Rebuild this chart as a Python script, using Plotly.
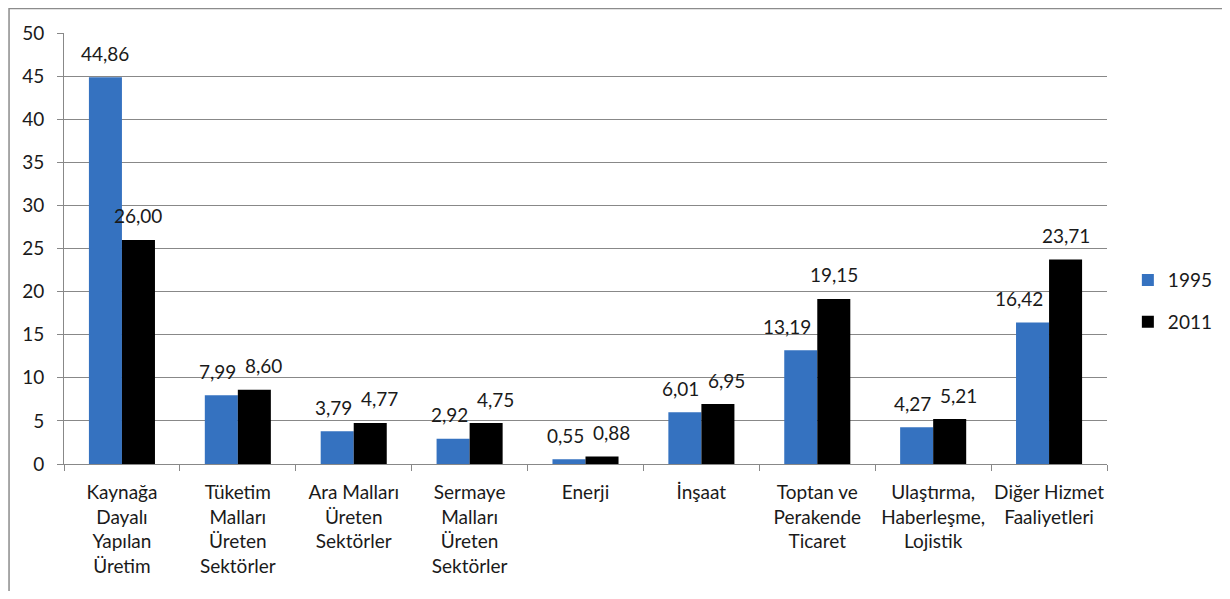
import plotly.graph_objects as go

# ---------------------------------------------------------------------------
# Data
# ---------------------------------------------------------------------------

categories = [
    "Kaynağa<br>Dayalı<br>Yapılan<br>Üretim",
    "Tüketim<br>Malları<br>Üreten<br>Sektörler",
    "Ara Malları<br>Üreten<br>Sektörler",
    "Sermaye<br>Malları<br>Üreten<br>Sektörler",
    "Enerji",
    "İnşaat",
    "Toptan ve<br>Perakende<br>Ticaret",
    "Ulaştırma,<br>Haberleşme,<br>Lojistik",
    "Diğer Hizmet<br>Faaliyetleri",
]
values_1995 = [44.86, 7.99, 3.79, 2.92, 0.55, 6.01, 13.19, 4.27, 16.42]
values_2011 = [26.00, 8.60, 4.77, 4.75, 0.88, 6.95, 19.15, 5.21, 23.71]
y_ticks = [0, 5, 10, 15, 20, 25, 30, 35, 40, 45, 50]

_FONT = "Lato, 'Open Sans', sans-serif"
_FS = 19
_TEXT = "#1a1a1a"
_GRID = "#888888"
_BLUE = "#3572c0"
_BLACK = "#000000"

# page body has an 8px margin, so the figure is a bit smaller than the window
W, H = 1214, 583
PLOT_H = H - 25 - 127          # pixel height of the plot area
PX_PER_UNIT = PLOT_H / 50.0


def tr_fmt(v):
    return f"{v:.2f}".replace(".", ",")


fig = go.Figure()

for name, vals, color in [("1995", values_1995, _BLUE), ("2011", values_2011, _BLACK)]:
    fig.add_trace(go.Bar(
        x=categories, y=vals,
        name=name,
        marker=dict(color=color, line=dict(width=0)),
        legendgroup=name,
    ))

# data labels centred over each bar; labels that would collide with each other
# or with the taller neighbouring bar are nudged sideways (as Excel does)
for cat, a, b in zip(categories, values_1995, values_2011):
    dy = (b - a) * PX_PER_UNIT
    nudge_a, nudge_b = 0, 0
    if abs(dy) < 20:
        nudge_a, nudge_b = -4, 9
    elif dy > 20:
        nudge_a = -14
    for v, xs in [(a, -16.5 + nudge_a), (b, 16.5 + nudge_b)]:
        fig.add_annotation(
            x=cat, y=v, xref="x", yref="y",
            text=tr_fmt(v), showarrow=False,
            xshift=xs, yshift=24, yanchor="middle",
            font=dict(size=_FS, color=_TEXT, family=_FONT),
        )

fig.update_layout(
    width=W, height=H,
    paper_bgcolor="white",
    plot_bgcolor="white",
    font=dict(family=_FONT, size=_FS, color=_TEXT),
    margin=dict(l=56, r=115, t=25, b=127, autoexpand=False),
    barmode="group",
    bargap=0.43,
    bargroupgap=0,
    xaxis=dict(
        showline=True, linecolor=_GRID, linewidth=1,
        ticks="outside", ticklen=6, tickcolor=_GRID,
        tickson="boundaries",
        tickangle=0,
        ticklabelstandoff=11,
        showgrid=False,
        tickfont=dict(size=_FS, color=_TEXT, family=_FONT),
    ),
    yaxis=dict(
        range=[0, 50],
        tickvals=y_ticks,
        showline=True, linecolor=_GRID, linewidth=1,
        ticks="outside", ticklen=6, tickcolor=_GRID,
        ticklabelstandoff=9,
        showgrid=True, gridcolor=_GRID, gridwidth=1,
        zeroline=False,
        tickfont=dict(size=_FS, color=_TEXT, family=_FONT),
    ),
    legend=dict(
        x=1.020, xanchor="left",
        y=0.378, yanchor="middle",
        font=dict(size=_FS, color=_TEXT, family=_FONT),
        tracegroupgap=14,
        itemwidth=30,
        bgcolor="rgba(0,0,0,0)",
    ),
    showlegend=True,
)

# outer chart frame (only left and top edges show in the reference crop)
fig.add_shape(
    type="rect", xref="paper", yref="paper",
    x0=-0.0527, x1=1.2, y0=-0.4, y1=1.057,
    line=dict(color="#8c8c8c", width=1.5),
    fillcolor="rgba(0,0,0,0)",
    layer="below",
)

fig.write_html("out.html")
